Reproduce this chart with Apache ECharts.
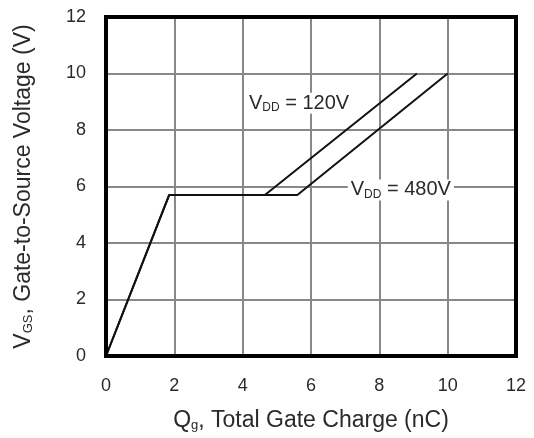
<!DOCTYPE html>
<html><head><meta charset="utf-8">
<script src="https://cdn.jsdelivr.net/npm/echarts@6/dist/echarts.min.js"></script>
<style>html,body{margin:0;padding:0;background:#fff}#c{width:534px;height:438px}</style>
</head><body><div id="c"></div>
<script>
const xTicks = [0, 2, 4, 6, 8, 10, 12];
const yTicks = [0, 2, 4, 6, 8, 10, 12];
const vdd120 = [[0, 0], [1.85, 5.7], [4.65, 5.7], [9.1, 10]];
const vdd480 = [[0, 0], [1.85, 5.7], [5.6, 5.7], [10, 10]];
const label120Pos = [5.65, 8.95];
const label480Pos = [8.63, 5.88];

const chart = echarts.init(document.getElementById('c'), null, {renderer: 'canvas'});
const ff = '"Liberation Sans", Arial, sans-serif';
const textCol = '#2a2a2a';
function mkRich(big, small) {
  return {
    v: {fontSize: big, color: textCol, fontFamily: ff},
    s: {fontSize: small, color: textCol, fontFamily: ff, verticalAlign: 'bottom', padding: [Math.round(big * 0.45), 0, 0, 0]},
    t: {fontSize: big, color: textCol, fontFamily: ff}
  };
}
function mkLabel(pos, txt) {
  return {
    symbol: 'circle', symbolSize: 1,
    itemStyle: {color: 'rgba(0,0,0,0)'},
    silent: true,
    data: [{coord: pos, value: 0}],
    label: {
      show: true, position: 'inside',
      formatter: '{v|V}{s|DD}{t| = ' + txt + '}',
      backgroundColor: '#fff', padding: [0, 3, 0, 3], rich: mkRich(20, 12)
    }
  };
}
chart.setOption({
  animation: false,
  backgroundColor: '#fff',
  grid: {left: 106, right: 18, top: 17, bottom: 82, show: true, borderColor: '#000', borderWidth: 4, z: 5},
  xAxis: {
    type: 'value', min: xTicks[0], max: xTicks[xTicks.length - 1], interval: 2,
    name: '{v|Q}{s|g}{t|, Total Gate Charge (nC)}', nameLocation: 'middle', nameGap: 53,
    nameTextStyle: {rich: mkRich(23, 13)},
    axisLine: {show: false}, axisTick: {show: false},
    axisLabel: {color: textCol, fontSize: 18, fontFamily: ff, margin: 21},
    splitLine: {show: true, lineStyle: {color: '#888', width: 2}}
  },
  yAxis: {
    type: 'value', min: yTicks[0], max: yTicks[yTicks.length - 1], interval: 2,
    name: '{v|V}{s|GS}{t|, Gate-to-Source Voltage (V)}', nameLocation: 'middle', nameGap: 71,
    nameTextStyle: {rich: mkRich(23, 13)},
    axisLine: {show: false}, axisTick: {show: false},
    axisLabel: {color: textCol, fontSize: 18, fontFamily: ff, margin: 20},
    splitLine: {show: true, lineStyle: {color: '#888', width: 2}}
  },
  series: [
    {type: 'line', data: vdd120, symbol: 'none', lineStyle: {color: '#111', width: 2}, z: 3,
     markPoint: mkLabel(label120Pos, '120V')},
    {type: 'line', data: vdd480, symbol: 'none', lineStyle: {color: '#111', width: 2}, z: 3,
     markPoint: mkLabel(label480Pos, '480V')}
  ]
});
</script></body></html>
